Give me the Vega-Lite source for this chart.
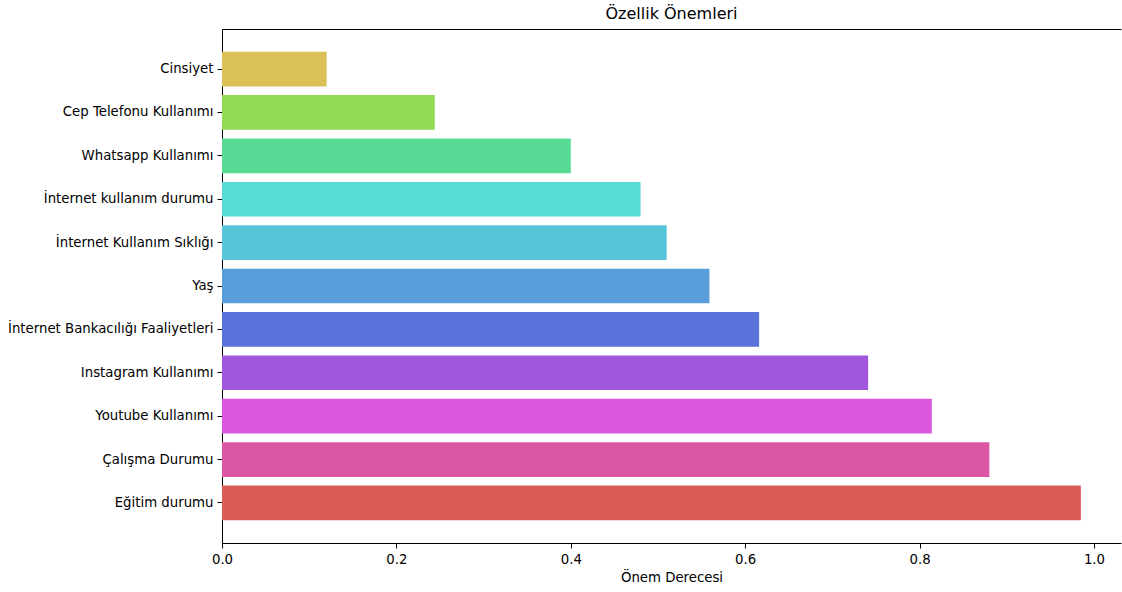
{
  "$schema": "https://vega.github.io/schema/vega-lite/v6.json",
  "width": 899,
  "height": 514,
  "autosize": {"type": "none"},
  "padding": {"left": 222, "top": 29, "right": 1, "bottom": 49},
  "background": "white",
  "title": {"text": "Özellik Önemleri", "font": "DejaVu Sans", "fontSize": 16, "fontWeight": "normal", "color": "black", "offset": 7},
  "config": {
    "view": {"stroke": null},
    "axis": {"labelFont": "DejaVu Sans", "titleFont": "DejaVu Sans", "labelFontSize": 13.3, "titleFontSize": 13.3, "titleFontWeight": "normal", "labelColor": "black", "titleColor": "black", "tickColor": "black", "domainColor": "black", "tickSize": 5, "labelPadding": 4, "grid": false, "labelLimit": 400}
  },
  "data": {"values": [
    {"feature": "Eğitim durumu", "importance": 0.985},
    {"feature": "Çalışma Durumu", "importance": 0.880},
    {"feature": "Youtube Kullanımı", "importance": 0.814},
    {"feature": "Instagram Kullanımı", "importance": 0.741},
    {"feature": "İnternet Bankacılığı Faaliyetleri", "importance": 0.616},
    {"feature": "Yaş", "importance": 0.559},
    {"feature": "İnternet Kullanım Sıklığı", "importance": 0.510},
    {"feature": "İnternet kullanım durumu", "importance": 0.480},
    {"feature": "Whatsapp Kullanımı", "importance": 0.400},
    {"feature": "Cep Telefonu Kullanımı", "importance": 0.244},
    {"feature": "Cinsiyet", "importance": 0.120}
  ]},
  "resolve": {"axis": {"x": "independent"}},
  "layer": [
    {
      "mark": {"type": "bar"},
      "encoding": {
        "y": {
          "field": "feature", "type": "nominal",
          "sort": ["Cinsiyet", "Cep Telefonu Kullanımı", "Whatsapp Kullanımı", "İnternet kullanım durumu", "İnternet Kullanım Sıklığı", "Yaş", "İnternet Bankacılığı Faaliyetleri", "Instagram Kullanımı", "Youtube Kullanımı", "Çalışma Durumu", "Eğitim durumu"],
          "scale": {"paddingInner": 0.2, "paddingOuter": 0.524},
          "axis": {"title": null, "domain": true}
        },
        "x": {
          "field": "importance", "type": "quantitative",
          "scale": {"domain": [0, 1.031], "nice": false, "zero": true},
          "axis": {"title": "Önem Derecesi", "values": [0, 0.2, 0.4, 0.6, 0.8, 1.0], "format": ".1f", "titlePadding": 5, "labelFlush": false}
        },
        "color": {
          "field": "feature", "type": "nominal", "legend": null,
          "scale": {
            "domain": ["Eğitim durumu", "Çalışma Durumu", "Youtube Kullanımı", "Instagram Kullanımı", "İnternet Bankacılığı Faaliyetleri", "Yaş", "İnternet Kullanım Sıklığı", "İnternet kullanım durumu", "Whatsapp Kullanımı", "Cep Telefonu Kullanımı", "Cinsiyet"],
            "range": ["#db5c57", "#db57a4", "#d857db", "#a057db", "#5873dc", "#589edb", "#57c6db", "#57dbd6", "#57db94", "#93db57", "#dbc057"]
          }
        }
      }
    },
    {
      "mark": {"type": "bar", "opacity": 0},
      "encoding": {
        "y": {
          "field": "feature", "type": "nominal",
          "sort": ["Cinsiyet", "Cep Telefonu Kullanımı", "Whatsapp Kullanımı", "İnternet kullanım durumu", "İnternet Kullanım Sıklığı", "Yaş", "İnternet Bankacılığı Faaliyetleri", "Instagram Kullanımı", "Youtube Kullanımı", "Çalışma Durumu", "Eğitim durumu"]
        },
        "x": {
          "field": "importance", "type": "quantitative",
          "axis": {"orient": "top", "title": null, "labels": false, "ticks": false, "domain": true}
        }
      }
    }
  ]
}
